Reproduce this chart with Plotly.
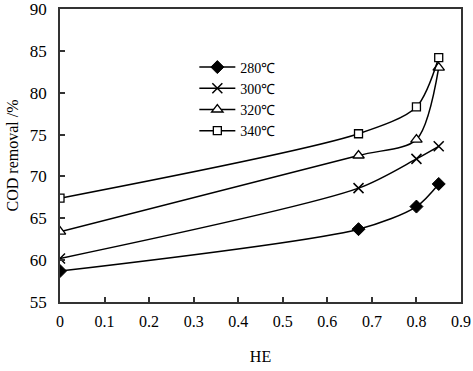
import plotly.graph_objects as go

he = [0, 0.67, 0.8, 0.85]
cod_280 = [58.7, 63.7, 66.4, 69.1]
cod_300 = [60.2, 68.6, 72.1, 73.6]
cod_320 = [63.4, 72.5, 74.4, 83.0]
cod_340 = [67.4, 75.1, 78.3, 84.2]
names = ["280℃", "300℃", "320℃", "340℃"]

FONT = "Liberation Serif, Times New Roman, serif"

fig = go.Figure()
styles = [
    dict(symbol="diamond", size=10, color="black", line=dict(color="black", width=1)),
    dict(symbol="x-thin-open", size=10, color="black", line=dict(color="black", width=1.5)),
    dict(symbol="triangle-up", size=10, color="white", line=dict(color="black", width=1.3)),
    dict(symbol="square", size=8, color="white", line=dict(color="black", width=1.3)),
]
for ys, nm, st in zip([cod_280, cod_300, cod_320, cod_340], names, styles):
    fig.add_trace(go.Scatter(
        x=he, y=ys, name=nm, mode="lines+markers",
        line=dict(color="black", width=1.5, shape="spline", smoothing=0.8),
        marker=st,
    ))

fig.update_layout(
    width=473, height=371,
    margin=dict(l=60, r=12, t=9, b=69),
    paper_bgcolor="white", plot_bgcolor="white",
    font=dict(family=FONT, size=16, color="black"),
    showlegend=True,
    legend=dict(x=0.335, y=0.855, xanchor="left", yanchor="top",
                font=dict(family=FONT, size=14), bgcolor="rgba(0,0,0,0)",
                tracegroupgap=0, itemwidth=36),
)
fig.update_xaxes(
    range=[0, 0.9], tickmode="array",
    tickvals=[0, 0.1, 0.2, 0.3, 0.4, 0.5, 0.6, 0.7, 0.8, 0.9],
    ticktext=["0", "0.1", "0.2", "0.3", "0.4", "0.5", "0.6", "0.7", "0.8", "0.9"],
    ticks="inside", ticklen=5, tickcolor="#333", tickwidth=1.5,
    showline=True, linecolor="#333", linewidth=1.5, mirror=True,
    showgrid=False, zeroline=False, automargin=False,
    ticklabelstandoff=4, ticklabeloverflow="allow",
    title=dict(text="HE", standoff=22, font=dict(size=16)),
    tickfont=dict(size=16),
)
fig.update_yaxes(
    range=[55, 90], dtick=5,
    ticks="inside", ticklen=5, tickcolor="#333", tickwidth=1.5,
    showline=True, linecolor="#333", linewidth=1.5, mirror=True,
    showgrid=False, zeroline=False, automargin=False,
    ticklabelstandoff=8, ticklabeloverflow="allow",
    title=dict(text="COD removal /%", standoff=7, font=dict(size=16)),
    tickfont=dict(size=17),
)
fig.write_html("out.html", config={"displayModeBar": False},
               post_script="document.body.style.margin='0';")
